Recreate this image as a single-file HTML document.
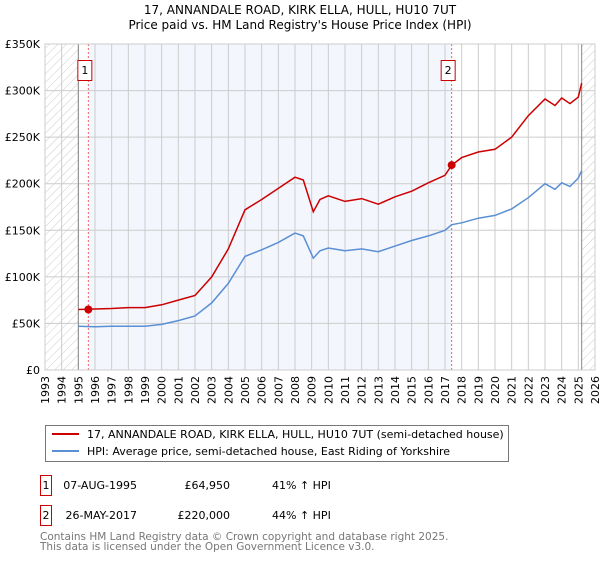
<!DOCTYPE html>
<html><head><meta charset="utf-8"><style>
body{margin:0;background:#fff;width:600px;height:560px;overflow:hidden;font-family:"DejaVu Sans","Liberation Sans",sans-serif}
</style></head><body>
<svg id="c" width="600" height="560" xmlns="http://www.w3.org/2000/svg" style="font-family:'DejaVu Sans','Liberation Sans',sans-serif">
<defs><pattern id="hatch" width="6" height="6" patternUnits="userSpaceOnUse" patternTransform="rotate(45)"><line x1="0" y1="0" x2="0" y2="6" stroke="#ccc" stroke-width="1"/></pattern></defs>
<text x="300" y="14" text-anchor="middle" font-size="12">17, ANNANDALE ROAD, KIRK ELLA, HULL, HU10 7UT</text>
<text x="300" y="29" text-anchor="middle" font-size="12">Price paid vs. HM Land Registry's House Price Index (HPI)</text>
<g id="plot"></g>
<rect x="45.5" y="425.5" width="463" height="36" fill="#fff" stroke="#777"/>
<line x1="52" y1="434" x2="79" y2="434" stroke="#cc0000" stroke-width="2"/>
<text x="87" y="438" font-size="11">17, ANNANDALE ROAD, KIRK ELLA, HULL, HU10 7UT (semi-detached house)</text>
<line x1="52" y1="451" x2="79" y2="451" stroke="#5b8fd4" stroke-width="2"/>
<text x="87" y="455" font-size="11">HPI: Average price, semi-detached house, East Riding of Yorkshire</text>
<g>
<rect x="40.5" y="475.5" width="11" height="20" fill="#fff" stroke="#cc0000"/>
<text x="46" y="489" font-size="11" text-anchor="middle">1</text>
<text x="137" y="489" font-size="11" text-anchor="end">07-AUG-1995</text>
<text x="230" y="489" font-size="11" text-anchor="end">£64,950</text>
<text x="272" y="489" font-size="11">41% ↑ HPI</text></g>
<g>
<rect x="40.5" y="505.5" width="11" height="20" fill="#fff" stroke="#cc0000"/>
<text x="46" y="519" font-size="11" text-anchor="middle">2</text>
<text x="137" y="519" font-size="11" text-anchor="end">26-MAY-2017</text>
<text x="230" y="519" font-size="11" text-anchor="end">£220,000</text>
<text x="272" y="519" font-size="11">44% ↑ HPI</text></g>
<text x="40" y="540" font-size="10.5" fill="#777">Contains HM Land Registry data © Crown copyright and database right 2025.</text>
<text x="40" y="550" font-size="10.5" fill="#777">This data is licensed under the Open Government Licence v3.0.</text>
</svg>
<script>
const years=[1995,1996,1997,1998,1999,2000,2001,2002,2003,2004,2005,2006,2007,2008,2008.5,2009.1,2009.5,2010,2011,2012,2013,2014,2015,2016,2017,2017.4,2018,2019,2020,2021,2022,2023,2023.6,2024,2024.5,2025,2025.2];
const hpiValues=[47,46.5,47,47,47,49,53,58,72,93,122,129,137,147,144,120,128,131,128,130,127,133,139,144,150,156,158,163,166,173,185,200,194,201,197,206,214];
const priceValues=[65,65.5,66,67,67,70,75,80,100,130,172,183,195,207,204,170,183,187,181,184,178,186,192,201,209,220,228,234,237,250,273,291,284,292,286,293,308];
const yTicks=[0,50,100,150,200,250,300,350];
const yTickLabels=["£0","£50K","£100K","£150K","£200K","£250K","£300K","£350K"];
const sales=[{year:1995.6,price:64.95,label:"1"},{year:2017.4,price:220,label:"2"}];
const x0=45,x1=595,yBase=370,yTop=44;
const xs=y=>x0+(y-1993)/(2026-1993)*(x1-x0);
const ys=v=>yBase-v/350*(yBase-yTop);
const g=document.getElementById('plot');const NS='http://www.w3.org/2000/svg';
function mk(t,a,p){const e=document.createElementNS(NS,t);for(const k in a)e.setAttribute(k,a[k]);(p||g).appendChild(e);return e;}
let r=mk('rect',{x:xs(1995.6),y:yTop,width:xs(2017.4)-xs(1995.6),height:yBase-yTop,fill:'#f3f6fd'});


r=mk('rect',{x:x0,y:yTop,width:xs(1995)-x0,height:yBase-yTop,fill:'url(#hatch)'});


r=mk('rect',{x:xs(2025.2),y:yTop,width:x1-xs(2025.2),height:yBase-yTop,fill:'url(#hatch)'});


for(let y=1993;y<=2026;y++){
 const l=mk('line',{x1:xs(y),x2:xs(y),y1:yTop,y2:yBase,stroke:'#ccc'});
 
 
 const t=mk('text',{x:0,y:0,'font-size':11,'text-anchor':'end',transform:`translate(${xs(y)+4},${yBase+6}) rotate(-90)`});
 t.textContent=y;
 
 
}
yTicks.forEach((v,i)=>{
 const l=mk('line',{x1:x0,x2:x1,y1:ys(v),y2:ys(v),stroke:'#ccc'});
 
 
 const t=mk('text',{x:40,y:ys(v)+4,'font-size':11,'text-anchor':'end'});
 t.textContent=yTickLabels[i];
 
 
});
let b=mk('line',{x1:xs(1995),x2:xs(1995),y1:yTop,y2:yBase,stroke:'#888'});


b=mk('line',{x1:xs(2025.2),x2:xs(2025.2),y1:yTop,y2:yBase,stroke:'#888'});


sales.forEach(s=>{
 const l=mk('line',{x1:xs(s.year),x2:xs(s.year),y1:yTop,y2:yBase,stroke:'#f06060','stroke-dasharray':'2,2'});
 
 
 const bx=mk('rect',{x:xs(s.year)-10.5,y:60.5,width:14,height:20,fill:'#fff',stroke:'#cc0000'});
 
 
 const t=mk('text',{x:xs(s.year)-3.5,y:74,'font-size':11,'text-anchor':'middle'});
 t.textContent=s.label;
 
 
});
const path=vals=>vals.map((v,i)=>(i?'L':'M')+xs(years[i]).toFixed(1)+','+ys(v).toFixed(1)).join('');
let p=mk('path',{d:path(hpiValues),fill:'none',stroke:'#5b8fd4','stroke-width':1.5});


p=mk('path',{d:path(priceValues),fill:'none',stroke:'#cc0000','stroke-width':1.5});


sales.forEach(s=>{
 const c=mk('circle',{cx:xs(s.year),cy:ys(s.price),r:4,fill:'#cc0000'});
 
 
});
const fr=mk('rect',{x:x0,y:yTop,width:x1-x0,height:yBase-yTop,fill:'none',stroke:'#ccc'});


</script>
</body></html>
